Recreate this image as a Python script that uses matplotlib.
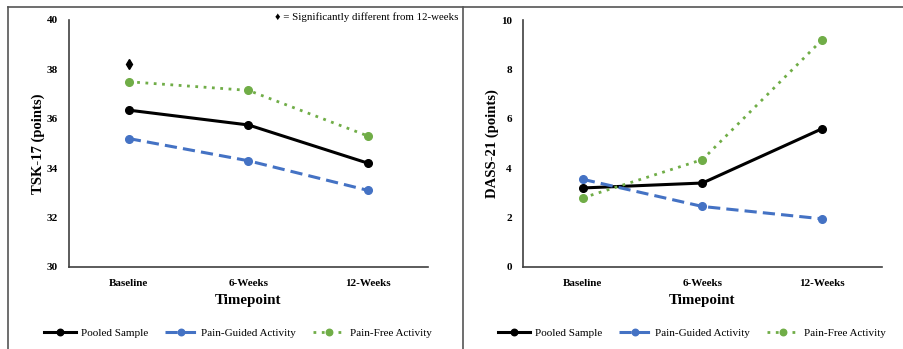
import matplotlib
matplotlib.use("Agg")
import matplotlib.pyplot as plt
from matplotlib.lines import Line2D

timepoints = ["Baseline", "6-Weeks", "12-Weeks"]

tsk_pooled = [36.35, 35.75, 34.2]
tsk_guided = [35.2, 34.3, 33.1]
tsk_free = [37.5, 37.15, 35.3]
tsk_sig = 38.2

dass_pooled = [3.2, 3.4, 5.6]
dass_guided = [3.55, 2.45, 1.95]
dass_free = [2.8, 4.35, 9.2]

series_names = ["Pooled Sample", "Pain-Guided Activity", "Pain-Free Activity"]

plt.rcParams["font.family"] = ["Liberation Serif", "DejaVu Serif"]

BLUE = "#4472C4"
GREEN = "#70AD47"
styles = [dict(color="black", ls="-", lw=2.2),
          dict(color=BLUE, ls=(0, (4, 2)), lw=2.2),
          dict(color=GREEN, ls=(0, (1, 2)), lw=2.0)]

fig = plt.figure(figsize=(9.04, 3.49), dpi=100)
W, H = 904.0, 349.0


def panel(x0, x1, data, ylim, yticks, ylabel):
    ax = fig.add_axes([x0 / W, 1 - 267 / H, (x1 - x0) / W, (267 - 20) / H])
    xs = [0.5, 1.5, 2.5]
    handles = []
    for vals, st in zip(data, styles):
        h, = ax.plot(xs, vals, marker="o", ms=5.5, color=st["color"],
                     ls=st["ls"], lw=st["lw"])
        handles.append(h)
    ax.set_xlim(0, 3)
    ax.set_ylim(*ylim)
    ax.set_yticks(yticks)
    ax.set_xticks(xs)
    ax.set_xticklabels(timepoints)
    for lab in ax.get_xticklabels() + ax.get_yticklabels():
        lab.set_fontweight("bold")
        lab.set_fontsize(8)
    ax.tick_params(length=0, pad=9)
    ax.tick_params(axis="y", pad=8)
    for s in ["top", "right"]:
        ax.spines[s].set_visible(False)
    for s in ["left", "bottom"]:
        ax.spines[s].set_color("#404040")
        ax.spines[s].set_linewidth(1.2)
    ax.set_ylabel(ylabel, fontsize=10.5, fontweight="bold", labelpad=1)
    ax.set_xlabel("Timepoint", fontsize=10.8, fontweight="bold", labelpad=4)
    ax.legend(handles, series_names, loc="center", ncol=3, frameon=False,
              bbox_to_anchor=(0.47, -0.267), fontsize=8, handlelength=2.9,
              columnspacing=1.5, handletextpad=0.4, markerscale=0.85)
    return ax


ax1 = panel(69, 428, [tsk_pooled, tsk_guided, tsk_free], (30, 40),
            range(30, 41, 2), "TSK-17 (points)")
ax1.plot([0.5], [tsk_sig], marker="d", color="black", ms=5, ls="none")
fig.text(458 / W, 1 - 17 / H, "\u2666 = Significantly different from 12-weeks",
         ha="right", va="center", fontsize=7.8,
         family=["Liberation Serif", "DejaVu Sans"])

ax2 = panel(523, 882, [dass_pooled, dass_guided, dass_free], (0, 10),
            range(0, 11, 2), "DASS-21 (points)")

# outer frame lines
fig.add_artist(Line2D([8 / W, 1], [1 - 7 / H, 1 - 7 / H], color="#555555", lw=1.2))
fig.add_artist(Line2D([8 / W, 8 / W], [0, 1 - 7 / H], color="#555555", lw=1.2))
fig.add_artist(Line2D([463 / W, 463 / W], [0, 1 - 7 / H], color="#555555", lw=1.2))

fig.savefig("out.png", dpi=100)
